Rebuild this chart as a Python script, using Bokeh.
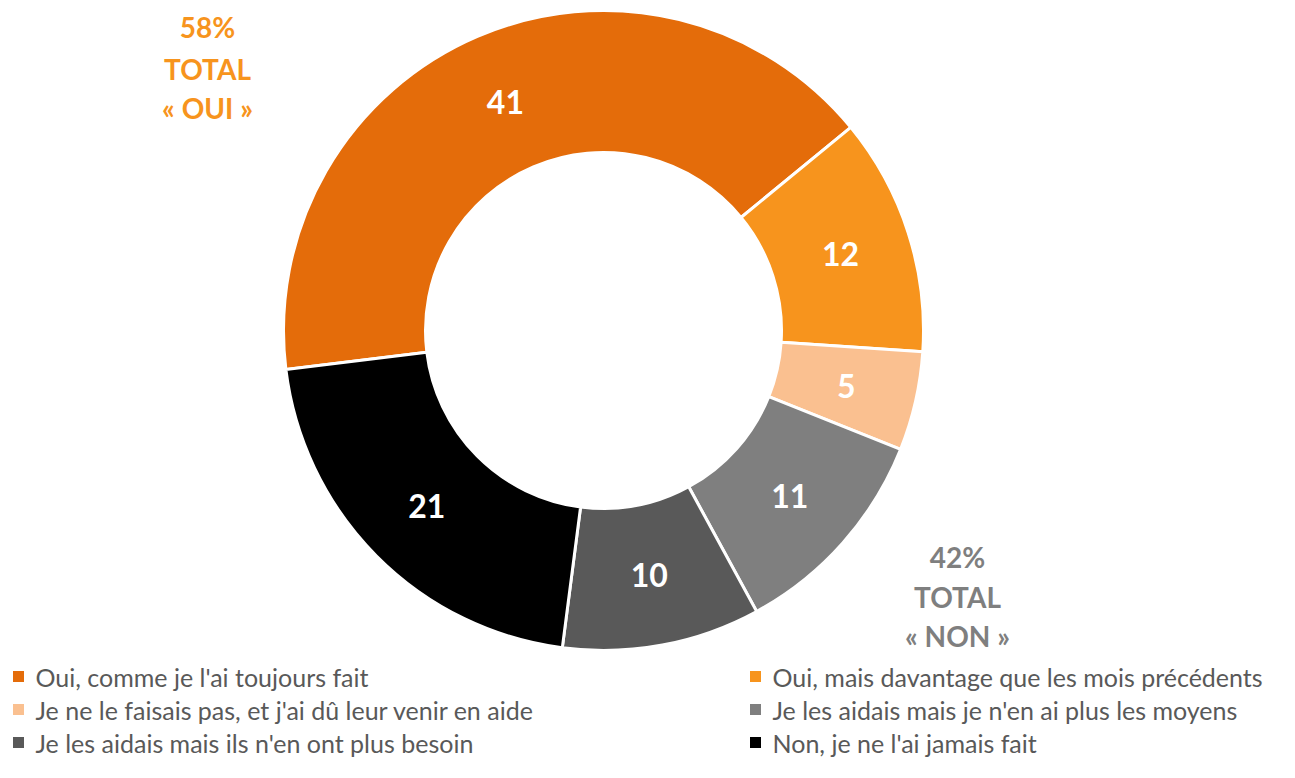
import math
from bokeh.plotting import figure
from bokeh.models import Range1d, ColumnDataSource
from bokeh.core.properties import value
from bokeh.embed import file_html
from bokeh.resources import INLINE

# ---- data ----
categories = [
    "Oui, comme je l'ai toujours fait",
    "Oui, mais davantage que les mois précédents",
    "Je ne le faisais pas, et j'ai dû leur venir en aide",
    "Je les aidais mais je n'en ai plus les moyens",
    "Je les aidais mais ils n'en ont plus besoin",
    "Non, je ne l'ai jamais fait",
]
values = [41, 12, 5, 11, 10, 21]
colors = ["#E46C0A", "#F7941D", "#FAC090", "#7F7F7F", "#595959", "#000000"]
total_oui = ["58%", "TOTAL", "« OUI »"]
total_non = ["42%", "TOTAL", "« NON »"]

# ---- layout (figure pixel coordinates, y flipped) ----
FW, FH = 1279, 762
H = 778
def Y(py):
    return H - py

cx, cy = 603, Y(330)
r_out, r_in = 320, 178
start_deg = 187.0

FONT = "Lato"

p = figure(width=FW, height=FH, output_backend="svg", toolbar_location=None,
           x_range=Range1d(0, FW), y_range=Range1d(H - FH, H),
           min_border=0, outline_line_color=None)
p.axis.visible = False
p.grid.visible = False
p.background_fill_color = "white"

tot = sum(values)
starts, ends, lx, ly = [], [], [], []
cum = 0
for v in values:
    a0 = start_deg - cum / tot * 360
    a1 = start_deg - (cum + v) / tot * 360
    starts.append(math.radians(a0))
    ends.append(math.radians(a1))
    mid = math.radians((a0 + a1) / 2)
    rm = (r_out + r_in) / 2
    lx.append(cx + rm * math.cos(mid))
    ly.append(cy + rm * math.sin(mid))
    cum += v

src = ColumnDataSource(dict(start=starts, end=ends, color=colors,
                            lx=lx, ly=ly, txt=[str(v) for v in values]))
p.annular_wedge(x=cx, y=cy, inner_radius=r_in, outer_radius=r_out,
                start_angle="start", end_angle="end",
                direction="clock", fill_color="color", line_color="white",
                line_width=3, source=src)
p.text(x="lx", y="ly", text="txt", source=src, text_color="white",
       text_font=value(FONT), text_font_style="bold", text_font_size="32px",
       text_align="center", text_baseline="middle")

# totals
p.text(x=[207] * 3, y=[Y(26), Y(68), Y(107)], text=total_oui,
       text_color="#F7941D", text_font=value(FONT), text_font_style="bold",
       text_font_size="28px", text_align="center", text_baseline="middle")
p.text(x=[957] * 3, y=[Y(556), Y(596), Y(635)], text=total_non,
       text_color="#7F7F7F", text_font=value(FONT), text_font_style="bold",
       text_font_size="28px", text_align="center", text_baseline="middle")

# legend (two columns, three rows)
col_x = [18, 755]
row_y = [676, 709, 742]
mx, my, tx, ty = [], [], [], []
for i in range(len(categories)):
    c, r = i % 2, i // 2
    mx.append(col_x[c])
    my.append(Y(row_y[r]))
    tx.append(col_x[c] + 17)
    ty.append(Y(row_y[r]))
p.scatter(x=mx, y=my, marker="square", size=11, fill_color=colors, line_color=None)
p.text(x=tx, y=ty, text=categories, text_color="#595959", text_font=value(FONT),
       text_font_size="25px", text_align="left", text_baseline="middle")

open("out.html", "w").write(file_html(p, INLINE))
